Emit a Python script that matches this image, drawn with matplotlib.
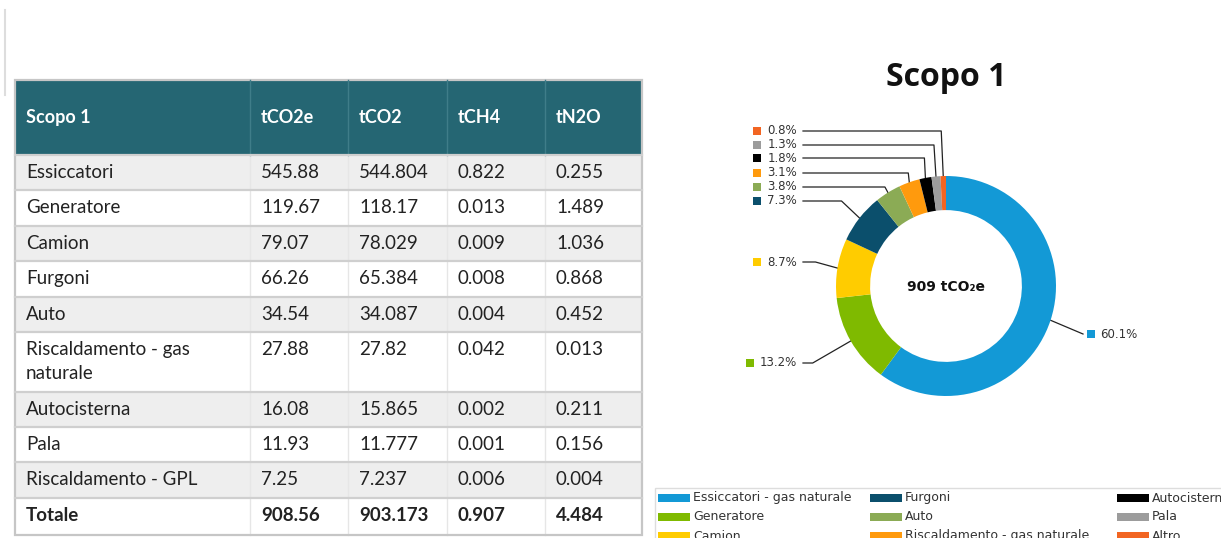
import numpy as np
import matplotlib.pyplot as plt
import matplotlib.patches as mpatches

W, H = 1221, 538

# table data
row_names = ["Essiccatori", "Generatore", "Camion", "Furgoni", "Auto",
             "Riscaldamento - gas\nnaturale", "Autocisterna", "Pala", "Riscaldamento - GPL"]
tco2e = [545.88, 119.67, 79.07, 66.26, 34.54, 27.88, 16.08, 11.93, 7.25]
tco2 = [544.804, 118.17, 78.029, 65.384, 34.087, 27.82, 15.865, 11.777, 7.237]
tch4 = [0.822, 0.013, 0.009, 0.008, 0.004, 0.042, 0.002, 0.001, 0.006]
tn2o = [0.255, 1.489, 1.036, 0.868, 0.452, 0.013, 0.211, 0.156, 0.004]
headers = ["Scopo 1", "tCO2e", "tCO2", "tCH4", "tN2O"]

# donut legend
legend_names = ["Essiccatori - gas naturale", "Generatore", "Camion", "Furgoni", "Auto",
                "Riscaldamento - gas naturale", "Autocisterna", "Pala", "Altro"]
colors = ["#1399d6", "#7fba00", "#ffcc00", "#0b4f6c", "#8bab55",
          "#ff9a0d", "#000000", "#9c9c9c", "#f26522"]

TABLE_FONT = "Lato"
CHART_FONT = "DejaVu Sans"

fig = plt.figure(figsize=(W / 100, H / 100), dpi=100)
ax = fig.add_axes([0, 0, 1, 1])
ax.set_xlim(0, W)
ax.set_ylim(H, 0)
ax.axis("off")

# thin border line top-left
ax.plot([5, 5], [10, 95], color="#dddddd", lw=1.5)

# ---- table ----
col_x = [15, 250, 348, 447, 545, 642]
row_y = [155, 190, 226, 261, 297, 332, 392, 427, 462, 498, 535]
head_top = 80

ax.add_patch(mpatches.Rectangle((col_x[0], head_top), col_x[-1] - col_x[0], row_y[0] - head_top,
                                fc="#256673", ec="none"))
for x in col_x[1:-1]:
    ax.plot([x, x], [head_top, row_y[0]], color="#3f7d89", lw=1)
for j, h in enumerate(headers):
    ax.text(col_x[j] + 11, (head_top + row_y[0]) / 2, h, color="white", fontsize=13,
            fontweight="bold", family=TABLE_FONT, va="center", ha="left")

totals = [f"{round(sum(c), 3):g}" for c in (tco2e, tco2, tch4, tn2o)]
rows = [[n, str(a), str(b), str(c), str(d)] for n, a, b, c, d in zip(row_names, tco2e, tco2, tch4, tn2o)]
rows.append(["Totale"] + totals)

for i, r in enumerate(rows):
    top, bot = row_y[i], row_y[i + 1]
    ax.add_patch(mpatches.Rectangle((col_x[0], top), col_x[-1] - col_x[0], bot - top,
                                    fc="#eeeeee" if i % 2 == 0 else "white", ec="none"))
    bold = i == len(rows) - 1
    for j, cell in enumerate(r):
        for k, line in enumerate(cell.split("\n")):
            ax.text(col_x[j] + 11, top + 17.5 + 24 * k, line, color="#222222", fontsize=13.5,
                    fontweight="bold" if bold else "normal", family=TABLE_FONT,
                    va="center", ha="left")
for x in col_x[1:-1]:
    ax.plot([x, x], [row_y[0], row_y[-1]], color="#e6e6e6", lw=1, zorder=1)
for y in row_y[:-1]:
    ax.plot([col_x[0], col_x[-1]], [y, y], color="#cfcfcf", lw=1.6)
ax.add_patch(mpatches.Rectangle((col_x[0], head_top), col_x[-1] - col_x[0], row_y[-1] - head_top,
                                fc="none", ec="#c6c6c6", lw=1.6))

# ---- donut ----
ax.text(946, 78, "Scopo 1", fontsize=23, fontweight="bold", family="Open Sans",
        ha="center", va="center", color="#111111")

cx, cy, R = 946, 286, 110
box_l, box_r, box_t, box_b = 650, 1221, 100, 480
dax = fig.add_axes([box_l / W, 1 - box_b / H, (box_r - box_l) / W, (box_b - box_t) / H])
wedges, _ = dax.pie(tco2e, colors=colors, startangle=90, counterclock=False, radius=1,
                    wedgeprops=dict(width=0.31, linewidth=0))
dax.set_xlim((box_l - cx) / R, (box_r - cx) / R)
dax.set_ylim((cy - box_b) / R, (cy - box_t) / R)
dax.set_aspect("auto")
dax.axis("off")

total = sum(tco2e)
ax.text(cx, cy + 1, f"{round(total)} tCO₂e", fontsize=10, fontweight="bold",
        family=CHART_FONT, ha="center", va="center", color="#111111")

# label layout (pixel positions): marker x, y, elbow gap, side
label_layout = [
    (1091, 334, 0, "right"),
    (750, 363, 38, "left"),
    (757, 262, 22, "left"),
    (757, 201, 18, "left"),
    (757, 187, 3, "left"),
    (757, 173, 1, "left"),
    (757, 158, 1, "left"),
    (757, 145, 2, "left"),
    (757, 131, 2, "left"),
]

to_pix = dax.transData + ax.transData.inverted()
for w, v, c, (mx, my, gap, side) in zip(wedges, tco2e, colors, label_layout):
    mid = np.deg2rad((w.theta1 + w.theta2) / 2)
    axp, ayp = to_pix.transform((np.cos(mid), np.sin(mid)))
    pct = f"{v / total * 100:.1f}%"
    ax.add_patch(mpatches.Rectangle((mx - 4, my - 4), 8, 8, fc=c, ec="none"))
    if side == "left":
        ax.text(797, my, pct, fontsize=8.5, family=CHART_FONT, color="#333333",
                ha="right", va="center")
        ex = axp - gap
        ax.plot([803, ex, axp], [my, my, ayp], color="#222222", lw=0.9)
    else:
        ax.text(mx + 9, my, pct, fontsize=8.5, family=CHART_FONT, color="#333333",
                ha="left", va="center")
        ax.plot([axp, mx - 8], [ayp, my], color="#222222", lw=0.9)

# ---- legend (bottom, clipped by figure edge as in the source) ----
ax.add_patch(mpatches.Rectangle((655, 488), 600, 80, fc="white", ec="#dddddd", lw=1))
leg_cols = [658, 870, 1117]
leg_rows = [498, 517, 536]
for i, (name, c) in enumerate(zip(legend_names, colors)):
    lx, ly = leg_cols[i // 3], leg_rows[i % 3]
    ax.add_patch(mpatches.Rectangle((lx, ly - 4), 32, 8, fc=c, ec="none"))
    ax.text(lx + 35, ly, name, fontsize=9, family=CHART_FONT, color="#333333",
            ha="left", va="center")

fig.savefig("out.png", dpi=100)
